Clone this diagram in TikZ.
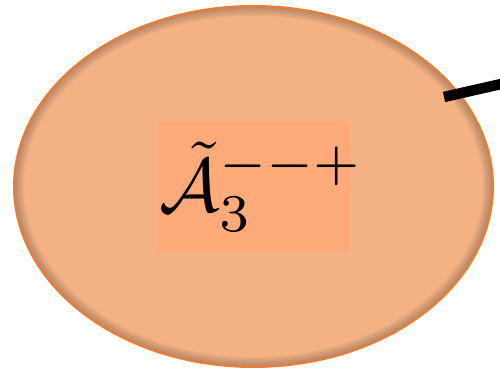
\documentclass[tikz,border=0pt]{standalone}
\usepackage{amsmath,amssymb}
\usepackage{xcolor}
\usepackage{tikz}
\usetikzlibrary{positioning,shapes.geometric}
\definecolor{borange}{RGB}{237,125,49}
\definecolor{lorange}{RGB}{244,177,131}
\definecolor{rorange}{RGB}{255,170,120}

\begin{document}
\begin{tikzpicture}[x=0.2mm, y=0.2mm,
  blob/.style={ellipse, draw=borange, line width=0.4mm, fill=lorange,
               minimum width=95.8mm, minimum height=72.2mm, inner sep=0pt,
               path picture={
                 \foreach \w in {1,...,8}
                   \draw[black!80, opacity=0.045, line width=\w*0.5mm]
                     (path picture bounding box.center)
                     ellipse [x radius=47.9mm, y radius=36.1mm];
               }},
  labelbox/.style={fill=rorange, inner sep=0pt,
                   minimum width=38.4mm, minimum height=26mm},
  link/.style={line width=2.1mm, black}]
  \clip (0,0) rectangle (500,372);
  \node[blob] (blob) at (253.5,185.5) {};
  \node[labelbox] (box) at (254,185) {};
  \node[anchor=west, inner sep=0pt, scale=4.3] (name) at (box.west)
    {$\tilde{\mathcal{A}}_3^{--+}$};
  \coordinate (tail) at (444,275);
  \coordinate (away) at (510,290);
  \draw[link] (tail) -- (away);
\end{tikzpicture}
\end{document}
